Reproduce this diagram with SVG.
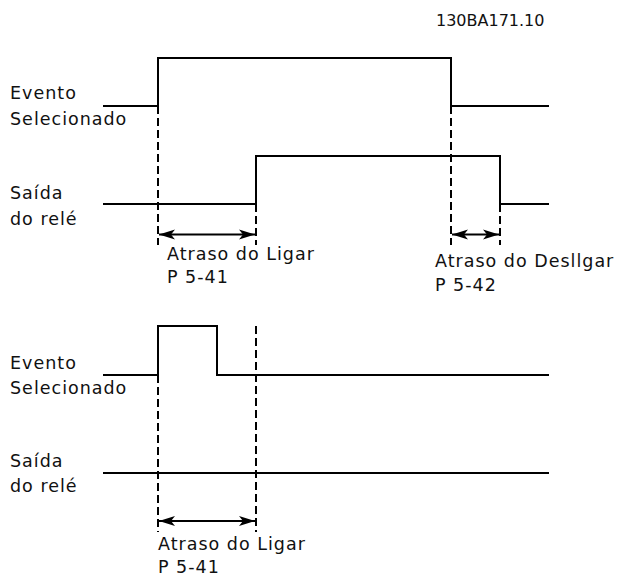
<svg xmlns="http://www.w3.org/2000/svg" width="623" height="574" viewBox="0 0 623 574">
  <style>
    .sig { fill: none; stroke: #000; stroke-width: 2; stroke-linejoin: miter; }
    .dash { fill: none; stroke: #000; stroke-width: 2; stroke-dasharray: 8 4; }
    .dim { fill: none; stroke: #000; stroke-width: 2; marker-start: url(#arr); marker-end: url(#arr); }
    .lbl { font-family: "DejaVu Sans", Verdana, sans-serif; font-size: 17.5px; letter-spacing: 1px; fill: #111; }
    .code { font-family: "DejaVu Sans", Verdana, sans-serif; font-size: 16px; fill: #111; }
  </style>
  <defs>
    <marker id="arr" markerUnits="userSpaceOnUse" markerWidth="18" markerHeight="12" refX="16" refY="6" orient="auto-start-reverse">
      <path d="M0,1 L16,6 L0,11 L4,6 z" fill="#000"/>
    </marker>
  </defs>
  <rect width="623" height="574" fill="#fff"/>
  <text class="code" x="436" y="26">130BA171.10</text>

  <g id="top-event">
    <polyline class="sig" points="103,106 158,106 158,58 451,58 451,106 549,106"/>
    <text class="lbl" x="10" y="99">Evento</text>
    <text class="lbl" x="10" y="124.5">Selecionado</text>
  </g>
  <g id="top-relay">
    <polyline class="sig" points="103,204 256,204 256,156 500,156 500,204 549,204"/>
    <text class="lbl" x="10" y="199">Saída</text>
    <text class="lbl" x="10" y="225">do relé</text>
  </g>
  <g id="bottom-event">
    <polyline class="sig" points="103,375 158,375 158,326 217,326 217,375 549,375"/>
    <text class="lbl" x="10" y="368.5">Evento</text>
    <text class="lbl" x="10" y="393.5">Selecionado</text>
  </g>
  <g id="bottom-relay">
    <polyline class="sig" points="103,473 549,473"/>
    <text class="lbl" x="10" y="467">Saída</text>
    <text class="lbl" x="10" y="492">do relé</text>
  </g>

  <g id="connectors">
    <line class="dash" x1="158" y1="106" x2="158" y2="245"/>
    <line class="dash" x1="256" y1="204" x2="256" y2="245"/>
    <line class="dash" x1="451" y1="106" x2="451" y2="245"/>
    <line class="dash" x1="500" y1="204" x2="500" y2="245"/>
    <line class="dim" x1="159" y1="234.5" x2="255" y2="234.5"/>
    <line class="dim" x1="452" y1="234.5" x2="499" y2="234.5"/>
    <line class="dash" x1="158" y1="375" x2="158" y2="532"/>
    <line class="dash" x1="256" y1="326" x2="256" y2="532"/>
    <line class="dim" x1="159" y1="521" x2="255" y2="521"/>
  </g>

  <g id="delay-labels">
    <text class="lbl" x="167" y="259.5">Atraso do Ligar</text>
    <text class="lbl" x="167" y="283">P 5-41</text>
    <text class="lbl" x="435" y="266.5">Atraso do Desllgar</text>
    <text class="lbl" x="435" y="290.5">P 5-42</text>
    <text class="lbl" x="158" y="549.5">Atraso do Ligar</text>
    <text class="lbl" x="158" y="572.5">P 5-41</text>
  </g>
</svg>
